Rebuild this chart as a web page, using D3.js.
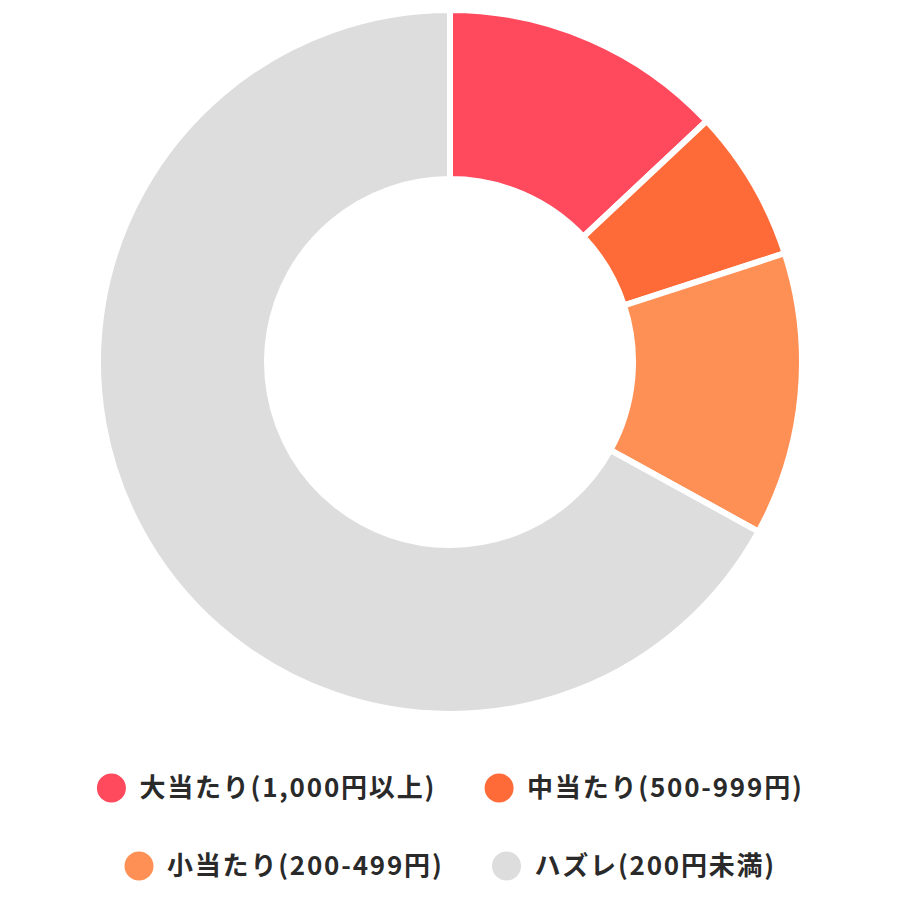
<!DOCTYPE html>
<html><head><meta charset="utf-8">
<script src="https://cdn.jsdelivr.net/npm/d3@7"></script>
<style>body{margin:0;background:#fff}</style></head>
<body><svg id="c" width="900" height="900"></svg>
<script>
const categories = ["大当たり(1,000円以上)","中当たり(500-999円)","小当たり(200-499円)","ハズレ(200円未満)"];
const values = [13, 7, 13, 67];
const colors = ["#ff4a5d","#ff6b38","#ff9055","#dddddd"];

const svg = d3.select("#c");
const cx = 450, cy = 362, rO = 352, rI = 183;
const pie = d3.pie().sort(null).value(d => d)(values);
const arc = d3.arc().innerRadius(rI).outerRadius(rO);
const g = svg.append("g").attr("transform",`translate(${cx},${cy})`);
g.selectAll("path").data(pie).join("path")
  .attr("d", arc).attr("fill",(d,i)=>colors[i])
  .attr("stroke","#fff").attr("stroke-width",6).attr("stroke-linejoin","miter");

const rows = [[0,1],[2,3]];
const rowY = [788, 866];
const fontSize = 26, ls = 1.8;
const font = `bold ${fontSize}px 'Noto Sans CJK JP', sans-serif`;
const ctx = document.createElement("canvas").getContext("2d"); ctx.font = font;
rows.forEach((row, ri) => {
  const gap = 48, boxW = 30, pad = 13;
  const widths = row.map(i => boxW + pad + ctx.measureText(categories[i]).width + ls*categories[i].length);
  const total = widths.reduce((a,b)=>a+b,0) + gap*(row.length-1);
  let x = 450 - total/2;
  row.forEach((i, k) => {
    svg.append("circle").attr("cx", x+15).attr("cy", rowY[ri]).attr("r", 14.5).attr("fill", colors[i]);
    svg.append("text").attr("x", x+boxW+pad).attr("y", rowY[ri]).attr("dy","0.35em")
      .style("font", font).style("letter-spacing", ls+"px").attr("fill","#2a2a2a").text(categories[i]);
    x += widths[k] + gap;
  });
});
</script></body></html>
